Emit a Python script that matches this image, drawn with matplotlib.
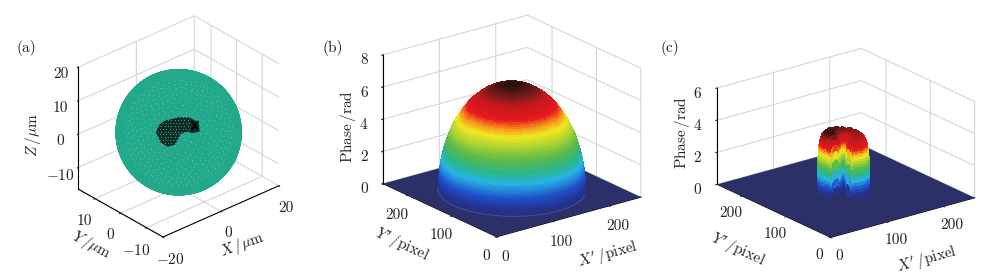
import numpy as np
import matplotlib
matplotlib.use('Agg')
import matplotlib.pyplot as plt
from matplotlib.colors import LinearSegmentedColormap
from matplotlib.path import Path
from matplotlib.transforms import Affine2D
from mpl_toolkits.mplot3d import proj3d
from mpl_toolkits.mplot3d.art3d import Poly3DCollection

plt.rcParams['font.family'] = ['cmr10', 'DejaVu Sans']
plt.rcParams['mathtext.fontset'] = 'cm'
plt.rcParams['axes.unicode_minus'] = False
plt.rcParams['axes.linewidth'] = 0.8

# panel a: sphere radius and the dark object, in um across the view
sphere_radius = 16.3
blob_u = [-5.9, -5.2, -3.7, -0.3, 2.6, 5.0, 5.2, 3.5, 2.2, 0.4, -0.4, -1.1, -2.9, -4.6, -5.9]
blob_v = [0.0, 1.9, 3.0, 3.9, 3.9, 2.6, 0.4, 0.0, 0.4, -0.2, -1.7, -3.0, -3.5, -2.6, 0.0]
tip_u = [3.4, 5.0, 4.2, 3.4, 5.0]
tip_v = [2.8, 0.8, 1.8, 0.8, 2.8]

# panel b: dome profile, radius (pixel) against phase (rad)
dome_r = [0, 12, 18, 24, 30, 33, 36, 39, 42, 44.5, 48, 50.5, 54, 57, 59.3, 61.4, 63.4, 65.4, 67.2, 69.0, 70.7,
          72.3, 73.9, 75.3, 76.8, 78.1, 79.4, 80.7, 81.9, 83.1, 84.2, 85.3, 86.3, 87.3, 88.3, 89.2, 90.1, 90.9,
          91.7, 92.5, 93.3, 94.0, 94.7, 95.3, 96.0, 96.6, 97.1, 97.7, 98.2, 98.6, 99.1, 99.5, 99.9, 100.3,
          100.6, 101.0, 101.3, 101.6, 101.8, 102.0, 102.2, 102.4, 102.6, 102.7, 102.8, 102.9, 103.0, 103.0]
dome_phase = [6.6, 6.55, 6.5, 6.42, 6.31, 6.25, 6.18, 6.1, 6.03, 5.95, 5.84, 5.75, 5.62, 5.5, 5.4, 5.3, 5.2, 5.1,
              5.0, 4.9, 4.8, 4.7, 4.6, 4.5, 4.4, 4.3, 4.2, 4.1, 4.0, 3.9, 3.8, 3.7, 3.6, 3.5, 3.4, 3.3, 3.2, 3.1,
              3.0, 2.9, 2.8, 2.7, 2.6, 2.5, 2.4, 2.3, 2.2, 2.1, 2.0, 1.9, 1.8, 1.7, 1.6, 1.5, 1.4, 1.3, 1.2, 1.1,
              1.0, 0.9, 0.8, 0.7, 0.6, 0.5, 0.4, 0.3, 0.2, 0.0]

# panel c: arch read as stations along a curve, and one cross section
arch_theta = [-110, -109, -108, -107, -106, -105, -103, -100, -90, -78, -66, -54, -42, -30, -18, -6, 6, 18,
              30, 42, 54, 66, 78, 90, 102, 114, 126, 138, 150, 162, 174, 184, 190, 193, 195, 196, 197, 198,
              199, 200]
arch_phase = [0, 0.7, 1.4, 2.0, 2.5, 2.9, 3.2, 3.3, 3.38, 3.3, 3.42, 3.35, 3.45, 3.38, 3.5, 3.42, 3.52, 3.45,
              3.58, 3.5, 3.6, 3.55, 3.65, 3.58, 3.68, 3.62, 3.7, 3.64, 3.7, 3.66, 3.7, 3.6, 3.4, 3.1, 2.7,
              2.2, 1.6, 1.0, 0.5, 0]
arch_width = [10, 11, 11.5, 12, 12.5, 13, 14, 15, 17, 17, 17, 17, 17, 17, 17, 17, 17, 17, 17, 17, 17, 17, 17,
              17, 17, 17, 17, 17, 17, 17, 17, 16, 15, 14, 13, 12.5, 12, 11.5, 11, 10]
section_d = [-1.0, -0.995, -0.99, -0.985, -0.98, -0.975, -0.97, -0.96, -0.95, -0.94, -0.93, -0.915, -0.9, -0.88,
             -0.86, -0.83, -0.8, -0.76, -0.72, -0.66, -0.6, -0.5, -0.4, -0.2, 0.0,
             0.2, 0.4, 0.5, 0.6, 0.66, 0.72, 0.76, 0.8, 0.83, 0.86, 0.88, 0.9, 0.915, 0.93, 0.94, 0.95, 0.96,
             0.97, 0.975, 0.98, 0.985, 0.99, 0.995, 1.0]
section_h = [0, 0.06, 0.12, 0.18, 0.24, 0.30, 0.36, 0.42, 0.48, 0.53, 0.58, 0.63, 0.68, 0.72, 0.76, 0.8, 0.83, 0.86,
             0.89, 0.92, 0.94, 0.96, 0.98, 1, 1,
             1, 0.98, 0.96, 0.94, 0.92, 0.89, 0.86, 0.83, 0.8, 0.76, 0.72, 0.68, 0.63, 0.58, 0.53, 0.48, 0.42,
             0.36, 0.30, 0.24, 0.18, 0.12, 0.06, 0]

pixel_ticks = [0, 100, 200]
pixel_labels = ['0', '100', '200']

phase_colors = [(0.0, '#2b2f6e'), (0.08, '#23349a'), (0.17, '#1f4fc8'), (0.3, '#28b4e6'), (0.39, '#2ab58a'),
                (0.5, '#5dba48'), (0.68, '#f2e81e'), (0.74, '#f59a1d'), (0.8, '#e8181f'), (0.9, '#c3181c'),
                (0.96, '#6b1a18'), (1.0, '#2e1010')]
phase_cmap = LinearSegmentedColormap.from_list('phase', phase_colors)

FLOOR = '#2c3068'
TEAL = '#22a98b'
GRID = '#d6d6d6'
TEXT = '#222222'


def project(ax, p):
    ax.apply_aspect()
    ax.M = ax.get_proj()
    x, y, _ = proj3d.proj_transform(p[0], p[1], p[2], ax.M)
    return ax.transData.transform((x, y))


def fit_box(fig, ax, a, b, px_a, px_b):
    # move the square axes so that corners a and b land on the picture pixels px_a and px_b
    w, h = fig.get_size_inches() * fig.dpi
    size = 500.0
    ax.set_position([0, 0, size / w, size / h])
    now = np.hypot(*(project(ax, b) - project(ax, a)))
    want = np.hypot(px_b[0] - px_a[0], px_b[1] - px_a[1])
    size = size * want / now
    ax.set_position([0, 0, size / w, size / h])
    got = project(ax, a)
    ax.set_position([(px_a[0] - got[0]) / w, (h - px_a[1] - got[1]) / h, size / w, size / h])


def style_axes(ax, xlim, ylim, zlim, elev, azim, aspect):
    ax.view_init(elev=elev, azim=azim)
    ax.set_proj_type('ortho')
    ax.computed_zorder = False
    ax.set_xlim(*xlim)
    ax.set_ylim(*ylim)
    ax.set_zlim(*zlim)
    ax.set_box_aspect(aspect)
    for axis in (ax.xaxis, ax.yaxis, ax.zaxis):
        axis.pane.set_visible(False)
        axis._axinfo['grid']['color'] = GRID
        axis._axinfo['grid']['linewidth'] = 0.8
        axis._axinfo['tick']['inward_factor'] = 0.12
        axis._axinfo['tick']['outward_factor'] = 0.0
        axis._axinfo['axisline']['color'] = TEXT
        axis._axinfo['axisline']['linewidth'] = 0.9
    ax.tick_params(labelsize=11, colors=TEXT, width=0.7, pad=0)
    ax.patch.set_alpha(0)


def nudge(ax, axis, dx, dy):
    # shift tick labels by a few pixels, y upwards
    for tick in axis.get_major_ticks():
        tick.label1.set_transform(ax.transData + Affine2D().translate(dx, dy))


def label(fig, text, px, py, rot):
    fig.text(px / 1000, 1 - py / 279, text, fontsize=11, color=TEXT, rotation=rot, rotation_mode='anchor',
             ha='center', va='center')


def draw_floor(ax):
    xx, yy = np.meshgrid([0, 256], [0, 256])
    ax.plot_surface(xx, yy, np.zeros_like(xx, dtype=float), color=FLOOR, shade=False, zorder=1, linewidth=0)


fig = plt.figure(figsize=(10, 2.79), dpi=100)

# panel a
ax1 = fig.add_subplot(projection='3d')
style_axes(ax1, (-20, 20), (-16.5, 16.5), (-16.5, 20), 30, -131.5, (40, 33, 36.5))
ax1.set_xticks([-20, 0, 20], ['$-$20', '0', '20'])
ax1.set_yticks([-10, 0, 10], ['$-$10', '0', '10'])
ax1.set_zticks([-10, 0, 10, 20], ['$-$10', '0', '10', '20'])
nudge(ax1, ax1.xaxis, 7, 18)
nudge(ax1, ax1.yaxis, -12, 15)
nudge(ax1, ax1.zaxis, -6, 3)

lon = np.radians(np.linspace(0, 360, 91))
lat = np.radians(np.linspace(-90, 90, 46))
ax1.plot_surface(sphere_radius * np.outer(np.cos(lon), np.cos(lat)),
                 sphere_radius * np.outer(np.sin(lon), np.cos(lat)),
                 sphere_radius * np.outer(np.ones_like(lon), np.sin(lat)),
                 color=TEAL, edgecolor=TEAL, linewidth=0.3, shade=False, zorder=3, rstride=1, cstride=1)

az = np.radians(131.5 - 90)
el = np.radians(30)
right = np.array([np.cos(az), -np.sin(az), 0.0])
up = np.array([np.sin(az) * np.sin(el), np.cos(az) * np.sin(el), np.cos(el)])
toward = np.cross(right, up)

# faint mesh holes on the near side of the sphere
index = np.arange(1500)
sz = 1 - 2 * (index + 0.5) / index.size
sr = np.sqrt(1 - sz ** 2)
sa = index * np.pi * (3 - np.sqrt(5))
dots = np.column_stack([sr * np.cos(sa), sr * np.sin(sa), sz])
dots = dots[np.abs(dots @ toward) > 0.5]
ax1.scatter(*(sphere_radius * np.sign(dots @ toward)[:, None] * dots).T, s=0.5, color='#8fd8c4', alpha=0.3,
            linewidths=0, depthshade=False, zorder=4)

blob = np.array(blob_u)[:, None] * right + np.array(blob_v)[:, None] * up + sphere_radius * toward
ax1.add_collection3d(Poly3DCollection([blob], facecolor='#0f2a27', edgecolor='#0f2a27', linewidth=0.5, zorder=5))
uu, vv = np.meshgrid(np.arange(-7, 7, 0.85), np.arange(-5, 5, 0.74))
uu = uu + 0.42 * (np.round(vv / 0.74) % 2)
inside = Path(np.column_stack([blob_u, blob_v])).contains_points(np.column_stack([uu.ravel(), vv.ravel()]), radius=-0.2)
keep = uu.ravel()[inside] < 3.0
holes = uu.ravel()[inside][keep][:, None] * right + vv.ravel()[inside][keep][:, None] * up + sphere_radius * toward
ax1.scatter(*holes.T, s=0.8, color='#3f9c88', linewidths=0, depthshade=False, zorder=6)
tip = np.array(tip_u)[:, None] * right + np.array(tip_v)[:, None] * up + sphere_radius * toward
ax1.plot(*tip.T, color='black', lw=1.1, zorder=7)
fit_box(fig, ax1, (-20, -16.5, -16.5), (20, -16.5, -16.5), (163, 237), (278, 184))

# panel b
ax2 = fig.add_subplot(projection='3d')
style_axes(ax2, (0, 256), (0, 256), (0, 8), 21, -127.5, (550, 565, 418))
ax2.set_xticks(pixel_ticks, pixel_labels)
ax2.set_yticks(pixel_ticks, pixel_labels)
ax2.set_zticks([0, 2, 4, 6, 8], ['0', '2', '4', '6', '8'])
nudge(ax2, ax2.xaxis, 5, 9)
nudge(ax2, ax2.yaxis, -12, 11)
nudge(ax2, ax2.zaxis, 1, 4)
draw_floor(ax2)
ang = np.radians(np.linspace(0, 360, 121))
rr, aa = np.meshgrid(dome_r, ang)
pp = np.tile(dome_phase, (ang.size, 1))
ax2.plot_surface(128 + rr * np.cos(aa), 128 + rr * np.sin(aa), pp, cmap=phase_cmap, vmin=0, vmax=6.6,
                 rstride=1, cstride=1, shade=False, linewidth=0, antialiased=False, zorder=3)
# thin rim along the near foot of the dome
rim = np.radians(np.linspace(140, 310, 60))
ax2.plot(128 + 103.5 * np.cos(rim), 128 + 103.5 * np.sin(rim), 0.05, color='#3f55b8', lw=0.6, zorder=4)
fit_box(fig, ax2, (0, 0, 0), (256, 0, 0), (496.7, 236.7), (640.7, 196.7))

# panel c
ax3 = fig.add_subplot(projection='3d')
style_axes(ax3, (0, 256), (0, 256), (0, 6), 21, -127.5, (550, 565, 313))
ax3.set_xticks(pixel_ticks, pixel_labels)
ax3.set_yticks(pixel_ticks, pixel_labels)
ax3.set_zticks([0, 2, 4, 6], ['0', '2', '4', '6'])
nudge(ax3, ax3.xaxis, 5, 9)
nudge(ax3, ax3.yaxis, -12, 11)
nudge(ax3, ax3.zaxis, 1, 4)
draw_floor(ax3)
th = np.radians(arch_theta)[:, None]
radial = 20 + np.array(arch_width)[:, None] * np.array(section_d)[None, :]
zz = np.array(arch_phase)[:, None] * np.array(section_h)[None, :]
ax3.plot_surface(127 + radial * np.cos(th), 132 + radial * np.sin(th), zz, cmap=phase_cmap, vmin=0, vmax=3.7,
                 rstride=1, cstride=1, shade=False, linewidth=0, antialiased=False, zorder=3)
fit_box(fig, ax3, (0, 0, 0), (256, 0, 0), (830.7, 237.3), (974.3, 196.7))

label(fig, r'$X$$\,$/$\mu$m', 242, 245, 20)
label(fig, r'$Y$$\,$/$\mu$m', 91, 245, -28)
label(fig, r'$Z$$\,$/$\mu$m', 33, 135, 90)
label(fig, r"$X'\,$/pixel", 608, 255, 15.5)
label(fig, r"$Y'\,$/pixel", 402, 245, -25)
label(fig, r'Phase$\,$/rad', 348, 127, 90)
label(fig, r"$X'\,$/pixel", 927, 260, 15.5)
label(fig, r"$Y'\,$/pixel", 738, 250, -25)
label(fig, r'Phase$\,$/rad', 682, 133, 90)

fig.text(16 / 1000, 1 - 48 / 279, '(a)', fontsize=11, va='center', ha='left', color=TEXT)
fig.text(322 / 1000, 1 - 48 / 279, '(b)', fontsize=11, va='center', ha='left', color=TEXT)
fig.text(661 / 1000, 1 - 48 / 279, '(c)', fontsize=11, va='center', ha='left', color=TEXT)

fig.savefig('out.png', dpi=100)
